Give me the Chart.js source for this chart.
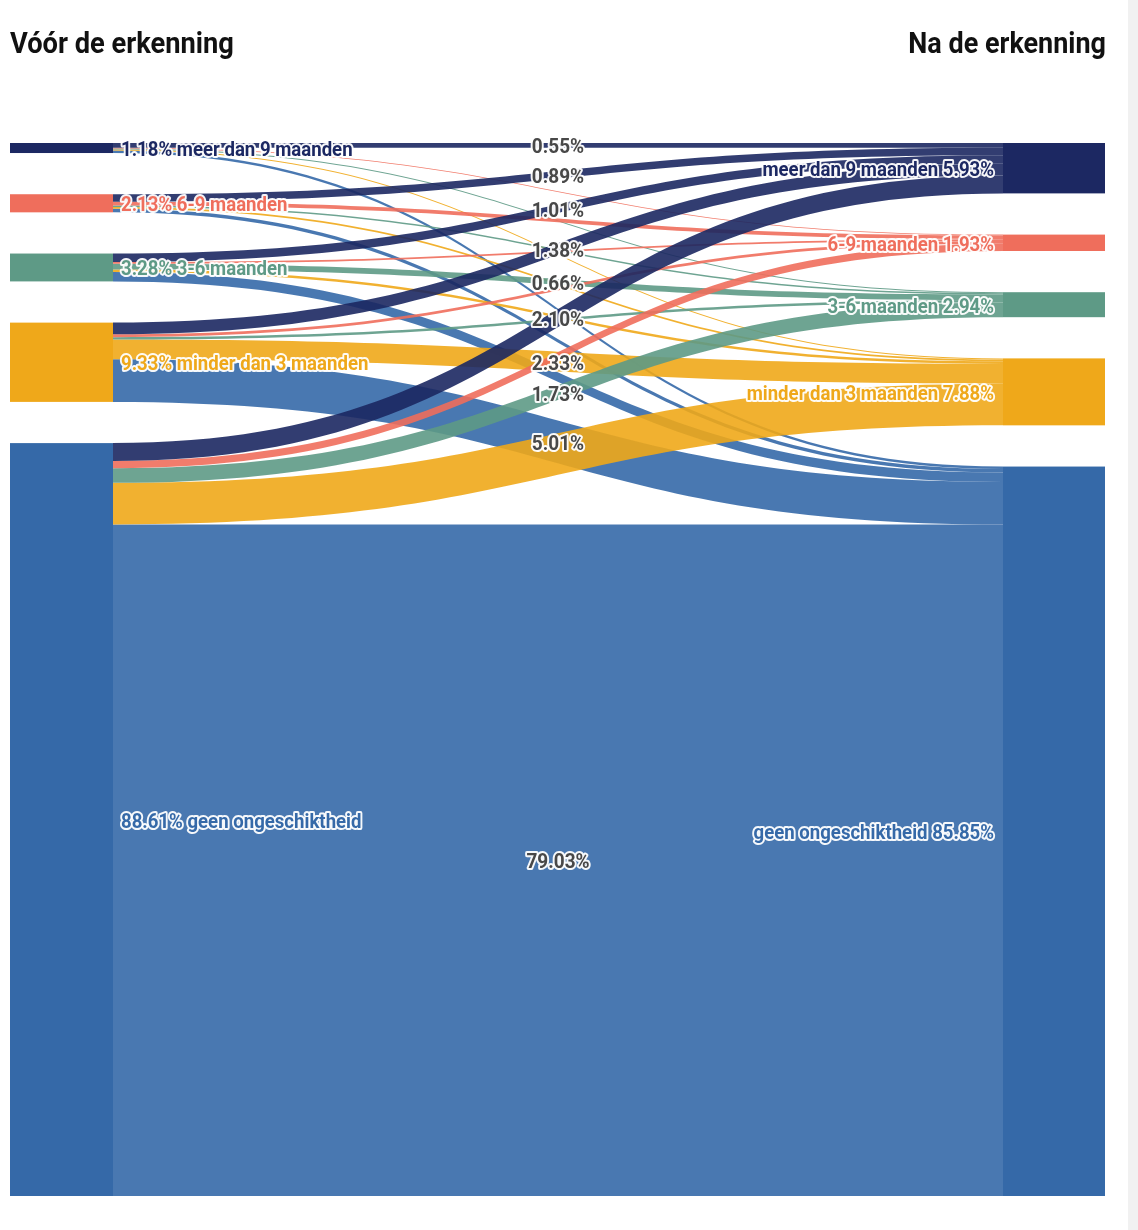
<!DOCTYPE html>
<html lang="nl">
<head>
    <meta charset="UTF-8">
    <title>Vóór en na de erkenning</title>
    <script src="https://cdn.jsdelivr.net/npm/chart.js"></script>
    <style>
        body {
            margin: 0;
            padding: 0;
            background: #fff;
            overflow: hidden;
        }
        .wrap {
            position: relative;
            width: 1138px;
            height: 1230px;
        }
        .scrollbar {
            position: absolute;
            left: 1128px;
            top: 0;
            width: 10px;
            height: 1230px;
            background: #f1f1f1;
        }
        canvas {
            position: absolute;
            left: 0;
            top: 0;
        }
    </style>
</head>
<body>
    <div class="wrap">
        <canvas id="sankey" width="1128" height="1230"></canvas>
        <div class="scrollbar"></div>
    </div>

    <script>
        // categories, same order on both sides
        const categories = ['meer dan 9 maanden', '6-9 maanden', '3-6 maanden', 'minder dan 3 maanden', 'geen ongeschiktheid'];
        const colors = ['#1c2862', '#ef6e5c', '#5e9a86', '#efa81a', '#3569a8'];

        // node totals (%)
        const before = [1.18, 2.13, 3.28, 9.33, 88.61];
        const after = [5.93, 1.93, 2.94, 7.88, 85.85];

        // flows per source, in target order
        const fromMeer9 = [0.55, 0.10, 0.12, 0.12, 0.29];
        const from6to9 = [0.89, 0.45, 0.15, 0.22, 0.42];
        const from3to6 = [1.01, 0.20, 0.66, 0.31, 1.10];
        const fromMinder3 = [1.38, 0.33, 0.28, 2.33, 5.01];
        const fromGeen = [2.10, 0.85, 1.73, 4.90, 79.03];
        const flows = [fromMeer9, from6to9, from3to6, fromMinder3, fromGeen];

        const titleLeft = 'Vóór de erkenning';
        const titleRight = 'Na de erkenning';

        const GAP = 4.85;       // gap between nodes, in % units
        const NODE_W = 103;     // px
        const LABEL_MIN = 0.5;  // smallest flow that gets a label

        const total = before.reduce((a, b) => a + b, 0) + GAP * (categories.length - 1);

        function tops(values) {
            const out = [];
            let y = 0;
            values.forEach(v => { out.push(y); y += v + GAP; });
            return out;
        }

        function condensedText(ctx, text, x, y, align, fill, size, weight, squeeze) {
            ctx.save();
            ctx.font = weight + ' ' + size + 'px Roboto';
            ctx.textBaseline = 'middle';
            const w = ctx.measureText(text).width * squeeze;
            let left = x;
            if (align === 'right') left = x - w;
            if (align === 'center') left = x - w / 2;
            ctx.translate(left, y);
            ctx.scale(squeeze, 1);
            ctx.textAlign = 'left';
            if (fill !== null) {
                ctx.lineWidth = 4;
                ctx.lineJoin = 'round';
                ctx.strokeStyle = 'rgba(255,255,255,0.95)';
                ctx.strokeText(text, 0, 0);
            }
            ctx.fillStyle = fill || '#111';
            ctx.fillText(text, 0, 0);
            ctx.restore();
            return w;
        }

        function hexA(hex, a) {
            const n = parseInt(hex.slice(1), 16);
            return 'rgba(' + (n >> 16) + ',' + ((n >> 8) & 255) + ',' + (n & 255) + ',' + a + ')';
        }

        const sankeyPlugin = {
            id: 'sankey',
            afterDatasetsDraw(chart) {
                const ctx = chart.ctx;
                const xs = chart.scales.x, ys = chart.scales.y;
                const leftTop = tops(before), rightTop = tops(after);
                const xl = xs.getPixelForValue(0), xr = xs.getPixelForValue(1);
                const x0 = xl + NODE_W, x1 = xr - NODE_W;
                const xm = (x0 + x1) / 2;
                const n = categories.length;

                // band positions
                const bands = [];
                const outOff = leftTop.slice(), inOff = rightTop.slice();
                for (let s = 0; s < n; s++) {
                    for (let t = 0; t < n; t++) {
                        const v = flows[s][t];
                        bands.push({ s, t, v, a0: outOff[s], b0: inOff[t] });
                        outOff[s] += v;
                        inOff[t] += v;
                    }
                }

                // flows, drawn by target: geen first, meer dan 9 last
                for (let t = n - 1; t >= 0; t--) {
                    bands.filter(b => b.t === t).forEach(b => {
                        const ya0 = ys.getPixelForValue(b.a0), ya1 = ys.getPixelForValue(b.a0 + b.v);
                        const yb0 = ys.getPixelForValue(b.b0), yb1 = ys.getPixelForValue(b.b0 + b.v);
                        ctx.beginPath();
                        ctx.moveTo(x0, ya0);
                        ctx.bezierCurveTo(xm, ya0, xm, yb0, x1, yb0);
                        ctx.lineTo(x1, yb1);
                        ctx.bezierCurveTo(xm, yb1, xm, ya1, x0, ya1);
                        ctx.closePath();
                        ctx.fillStyle = hexA(colors[b.t], 0.9);
                        ctx.fill();
                    });
                }

                // nodes
                for (let i = 0; i < n; i++) {
                    let yt = ys.getPixelForValue(leftTop[i]), yb = ys.getPixelForValue(leftTop[i] + before[i]);
                    ctx.fillStyle = colors[i];
                    ctx.fillRect(xl, yt, NODE_W, yb - yt);
                    yt = ys.getPixelForValue(rightTop[i]); yb = ys.getPixelForValue(rightTop[i] + after[i]);
                    ctx.fillRect(x1, yt, NODE_W - 1, yb - yt);
                }

                // node labels
                for (let i = 0; i < n; i++) {
                    const yl = ys.getPixelForValue(leftTop[i] + before[i] / 2);
                    condensedText(ctx, before[i].toFixed(2) + '% ' + categories[i], x0 + 8, yl + 3, 'left', colors[i], 20, 700, 0.93);
                    const yr = ys.getPixelForValue(rightTop[i] + after[i] / 2);
                    condensedText(ctx, categories[i] + ' ' + after[i].toFixed(2) + '%', x1 - 9, yr + 3, 'right', colors[i], 20, 700, 0.93);
                }

                // flow labels, biggest first, skip overlaps
                const placed = [];
                bands.filter(b => b.v >= LABEL_MIN).sort((a, b) => b.v - a.v).forEach(b => {
                    const yc = (ys.getPixelForValue(b.a0 + b.v / 2) + ys.getPixelForValue(b.b0 + b.v / 2)) / 2;
                    const box = { x: xm - 30, y: yc - 9, w: 60, h: 18 };
                    const hit = placed.some(p => box.x < p.x + p.w && p.x < box.x + box.w && box.y < p.y + p.h && p.y < box.y + box.h);
                    if (hit) return;
                    placed.push(box);
                    condensedText(ctx, b.v.toFixed(2) + '%', xm, yc + 3, 'center', '#484848', 20, 700, 0.95);
                });

                // column titles
                condensedText(ctx, titleLeft, xl, 46, 'left', null, 29, 700, 0.94);
                condensedText(ctx, titleRight, xr, 46, 'right', null, 29, 700, 0.93);
            }
        };

        const chart = new Chart(document.getElementById('sankey'), {
            type: 'scatter',
            data: { datasets: [{ data: [], pointRadius: 0 }] },
            options: {
                responsive: false,
                animation: false,
                events: [],
                layout: { padding: { left: 10, right: 22, top: 143, bottom: 34 } },
                plugins: { legend: { display: false }, tooltip: { enabled: false } },
                scales: {
                    x: { type: 'linear', min: 0, max: 1, display: false },
                    y: { type: 'linear', min: 0, max: total, reverse: true, display: false }
                }
            },
            plugins: [sankeyPlugin]
        });
    </script>
</body>
</html>
